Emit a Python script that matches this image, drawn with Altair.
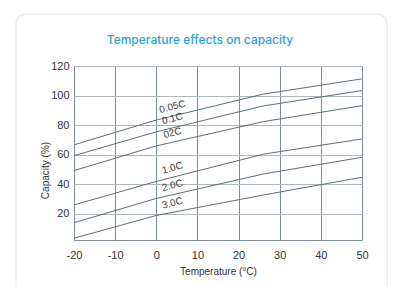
import altair as alt
import pandas as pd

# ---- data ----
series_names = ["0.05C", "0.1C", "02C", "1.0C", "2.0C", "3.0C"]
temps = [-20, 0, 26, 50]
cap_005 = [66.7, 83.5, 101.0, 111.3]
cap_01 = [59.4, 75.5, 93.0, 103.4]
cap_02 = [49.3, 66.0, 82.4, 93.2]
cap_10 = [26.1, 42.0, 60.4, 70.7]
cap_20 = [14.1, 30.5, 47.0, 58.3]
cap_30 = [3.6, 19.0, 32.8, 44.8]
x_ticks = [-20, -10, 0, 10, 20, 30, 40, 50]
y_ticks = [20, 40, 60, 80, 100, 120]

all_caps = [cap_005, cap_01, cap_02, cap_10, cap_20, cap_30]
rows = []
for name, caps in zip(series_names, all_caps):
    for t, c in zip(temps, caps):
        rows.append({"series": name, "temp": t, "cap": c})
df = pd.DataFrame(rows)

# label anchor: on each line at ~4.5 degC (between the 0 and 26 degC points)
label_t = 4.5
lab_rows = []
for name, caps in zip(series_names, all_caps):
    c = caps[1] + (caps[2] - caps[1]) * (label_t - temps[1]) / (temps[2] - temps[1])
    lab_rows.append({"series": name, "temp": label_t, "cap": c})
lab_df = pd.DataFrame(lab_rows)

xscale = alt.Scale(domain=[-20, 50], nice=False, zero=False)
yscale = alt.Scale(domain=[2.4, 120], nice=False, zero=False)

x_enc = alt.X("temp:Q", scale=xscale, axis=alt.Axis(
    values=x_ticks, title="Temperature (°C)", grid=True, gridColor="#7f8e95",
    gridWidth=1, domain=False, ticks=False, labelPadding=9, labelFontSize=11,
    labelFlush=False, labelOverlap=False, labelExpr="'' + datum.value",
    labelFont="Liberation Sans", labelColor="#333333", titleFont="Liberation Sans",
    titleFontSize=10, titleFontWeight="normal", titleColor="#333333", titlePadding=6))
y_enc = alt.Y("cap:Q", scale=yscale, axis=alt.Axis(
    values=y_ticks, title="Capacity (%)", grid=True, gridColor="#aeb8bc",
    gridWidth=1.2, domain=False, ticks=False, labelPadding=5, labelFontSize=11,
    labelFlush=False, labelOverlap=False,
    labelFont="Liberation Sans", labelColor="#333333", titleFont="Liberation Sans",
    titleFontSize=10, titleFontWeight="normal", titleColor="#333333",
    titleX=-29, titleY=104, titleAlign="center", titleBaseline="middle"))

card = alt.Chart(pd.DataFrame({"k": [0]})).mark_rect(
    fill="transparent", stroke="#e4e4e4", strokeWidth=1.2, cornerRadius=10
).encode(x=alt.value(-58), x2=alt.value(313), y=alt.value(-52), y2=alt.value(240))

lines = alt.Chart(df).mark_line(color="#5d6d75", strokeWidth=1).encode(
    x=x_enc, y=y_enc, detail="series:N")

labels = alt.Chart(lab_df).mark_text(
    font="Liberation Sans", fontSize=10, color="#3a3a3a", angle=345, dy=-9
).encode(x=x_enc, y=y_enc, text="series:N")

chart = alt.layer(card, lines, labels).properties(
    width=288, height=174,
    title=alt.TitleParams("Temperature effects on capacity", font="Inter", fontSize=12,
                          fontWeight=500, color="#2aa3d0", anchor="middle", dx=-18, offset=-34),
    autosize=alt.AutoSizeParams(type="none"),
    padding={"left": 66, "top": 58, "right": 26, "bottom": 46},
    background="white",
).configure_view(stroke="#7f8e95", strokeWidth=1)

chart.save("out.html", embed_options={"renderer": "svg", "actions": False})
